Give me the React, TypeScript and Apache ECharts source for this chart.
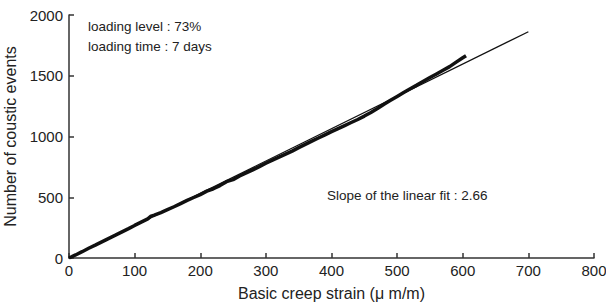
import React, { useEffect, useRef } from "react";
import * as echarts from "echarts";

const strain = [0, 10, 20, 30, 40, 50, 60, 70, 80, 90, 100, 110, 120, 125, 130, 140, 150, 160, 170, 180, 190, 200, 210, 220, 230, 240, 250, 260, 270, 280, 290, 300, 310, 320, 330, 340, 350, 360, 370, 380, 390, 400, 410, 420, 430, 440, 450, 460, 470, 480, 490, 500, 510, 520, 530, 540, 550, 560, 570, 580, 590, 600, 605];
const events = [0, 25, 52, 80, 106, 133, 160, 186, 213, 240, 268, 295, 322, 345, 352, 374, 398, 422, 448, 474, 498, 522, 550, 570, 596, 628, 645, 675, 700, 725, 752, 780, 805, 830, 855, 880, 908, 935, 962, 988, 1014, 1040, 1065, 1090, 1115, 1140, 1168, 1198, 1230, 1265, 1298, 1330, 1362, 1393, 1423, 1454, 1485, 1515, 1545, 1575, 1612, 1648, 1665];
const fitX = [0, 700];
const fitSlope = 2.66;
const annotations = ["loading level : 73%", "loading time : 7 days", "Slope of the linear fit : 2.66"];

export default function App() {
  const ref = useRef<HTMLDivElement>(null);
  useEffect(() => {
    document.body.style.margin = "0";
    const chart = echarts.init(ref.current!, null, { renderer: "svg" });
    const font = "Liberation Sans, Arial, sans-serif";
    chart.setOption({
      animation: false,
      backgroundColor: "#fff",
      grid: { left: 69, right: 12, top: 15, bottom: 49, containLabel: false, outerBoundsMode: "none" },
      xAxis: {
        type: "value",
        min: 0,
        max: 800,
        interval: 100,
        name: "Basic creep strain (μ m/m)",
        nameLocation: "middle",
        nameGap: 27,
        nameTextStyle: { fontFamily: font, fontSize: 16, color: "#222" },
        axisLine: { lineStyle: { color: "#333", width: 1.5 } },
        axisTick: { inside: true, length: 5, lineStyle: { color: "#333", width: 1.5 } },
        axisLabel: { fontFamily: font, fontSize: 15, color: "#222", margin: 5, formatter: (v: number) => String(v) },
        splitLine: { show: false },
      },
      yAxis: {
        type: "value",
        min: 0,
        max: 2000,
        interval: 500,
        name: "Number of coustic events",
        nameLocation: "middle",
        nameGap: 44,
        nameTextStyle: { fontFamily: font, fontSize: 16, color: "#222" },
        axisLine: { show: true, lineStyle: { color: "#333", width: 1.5 } },
        axisTick: { show: true, inside: true, length: 5, lineStyle: { color: "#333", width: 1.5 } },
        axisLabel: { fontFamily: font, fontSize: 15, color: "#222", margin: 6, formatter: (v: number) => String(v) },
        splitLine: { show: false },
      },
      series: [
        {
          type: "line",
          data: strain.map((x, i) => [x, events[i]]),
          showSymbol: false,
          lineStyle: { color: "#111", width: 3.5 },
          z: 2,
        },
        {
          type: "line",
          data: fitX.map((x) => [x, x * fitSlope]),
          showSymbol: false,
          lineStyle: { color: "#111", width: 1.3 },
          z: 3,
        },
      ],
      graphic: [
        { type: "text", left: 88, top: 19, style: { text: annotations[0], font: `13.5px ${font}`, fill: "#222" } },
        { type: "text", left: 88, top: 39, style: { text: annotations[1], font: `13.5px ${font}`, fill: "#222" } },
        { type: "text", left: 327, top: 188, style: { text: annotations[2], font: `13.5px ${font}`, fill: "#222" } },
      ],
    });
    return () => chart.dispose();
  }, []);
  return <div ref={ref} style={{ width: 606, height: 307 }} />;
}
